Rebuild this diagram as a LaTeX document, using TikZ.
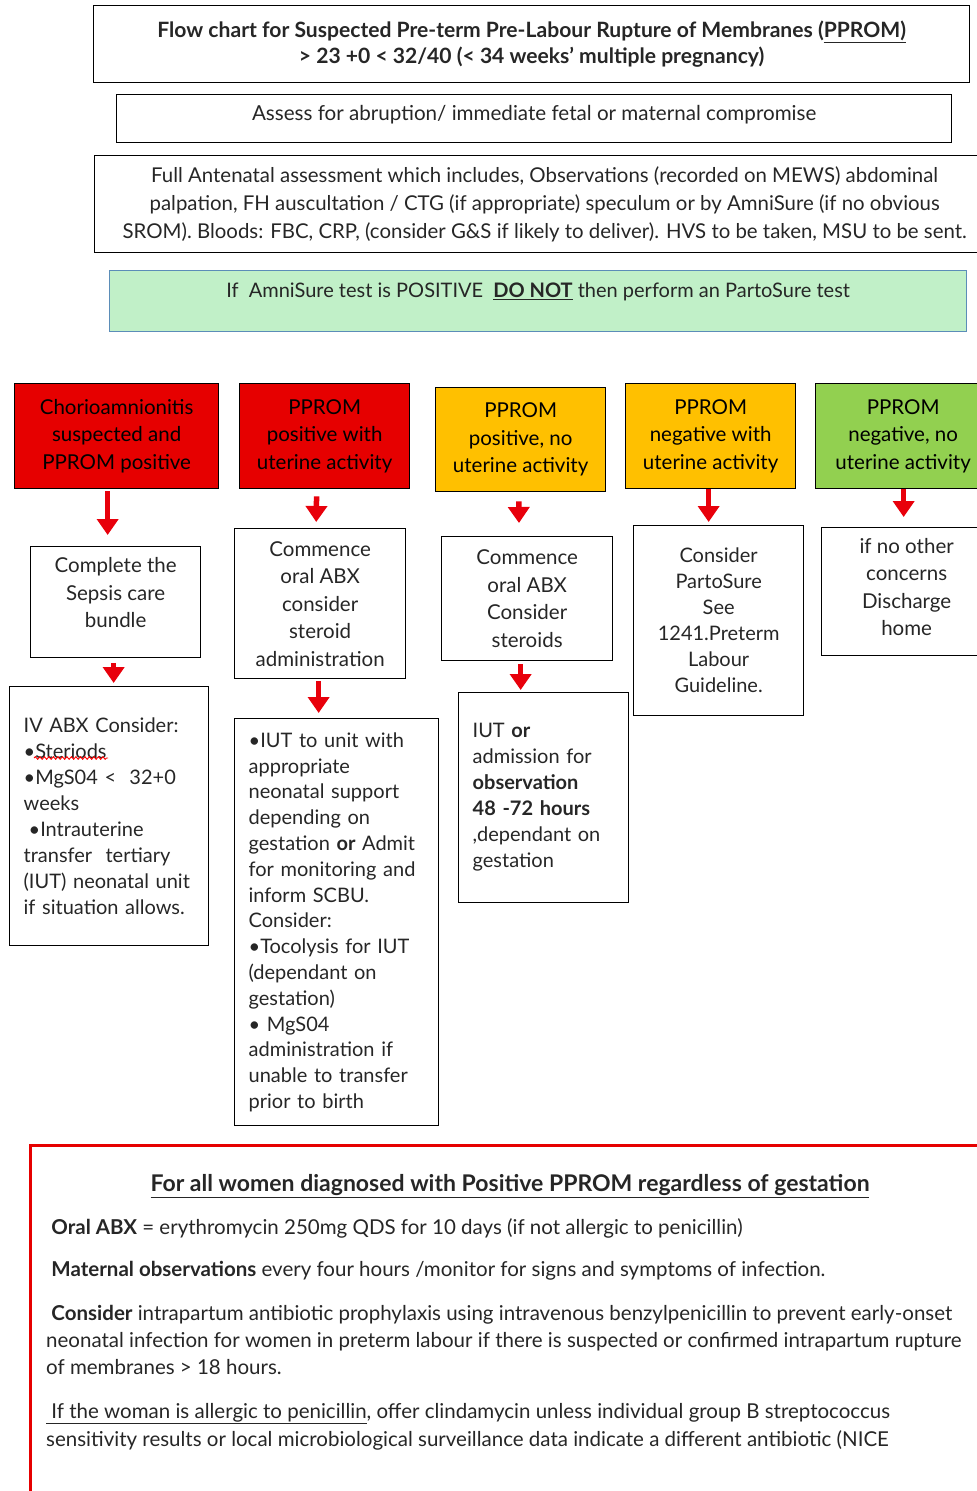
\documentclass[tikz,border=0pt]{standalone}
\usepackage{fontspec}
\setmainfont{Lato}
\usetikzlibrary{arrows.meta, decorations.pathmorphing}

\definecolor{ppromred}{HTML}{E60000}
\definecolor{amber}{HTML}{FFC000}
\definecolor{leaf}{HTML}{92D050}
\definecolor{mint}{HTML}{C1F0C8}
\definecolor{mintline}{HTML}{5B8DB8}
\definecolor{arrowred}{HTML}{E8000B}
\definecolor{inkgray}{HTML}{262626}

\newcommand\boxfont{\fontsize{20.5}{27.5}\selectfont}
\newcommand\listfont{\fontsize{20}{26}\selectfont}
\newcommand\headfont{\fontsize{20.6}{26}\selectfont}
\newcommand\notefont{\fontsize{20.5}{27}\selectfont}

\tikzset{
  box/.style={draw, line width=1.3pt, inner sep=0pt, anchor=north west, align=center, text=inkgray, font=\boxfont},
  topbox/.style={box, font=\headfont},
  redbox/.style={box, fill=ppromred, text=black},
  amberbox/.style={box, fill=amber, text=black},
  greenbox/.style={box, fill=leaf, text=black},
  listbox/.style={box, align=left, inner xsep=14pt, font=\listfont},
  note/.style={anchor=north west, inner sep=0pt, align=left, text=inkgray, font=\notefont},
  redarrow/.style={-{Triangle[width=21pt, length=16pt]}, draw=arrowred, line width=5.5pt},
  frame/.style={draw=ppromred, line width=3pt},
  spell/.style={draw=red, line width=0.9pt, decorate, decoration={snake, amplitude=1.3pt, segment length=4.5pt}}
}

\begin{document}
\begin{tikzpicture}[x=1pt, y=-1pt]
  \useasboundingbox (0,0) rectangle (977,1491);
  \clip (0,0) rectangle (977,1491);

  % Assessment boxes
  \node[topbox, minimum width=876, minimum height=77, font=\fontsize{21.1}{26}\selectfont] (title) at (93,5)
    {\textbf{Flow chart for Suspected Pre-term Pre-Labour Rupture of Membranes (\underline{PPROM)}}\\
     \textbf{> 23 +0 < 32/40 (< 34 weeks’ multiple pregnancy)}};
  \node[topbox, minimum width=835, minimum height=48, text height=14pt, text depth=10pt] (assess) at (116,94)
    {Assess for abruption/ immediate fetal or maternal compromise};
  \node[topbox, minimum width=900, minimum height=97, font=\fontsize{20.4}{28}\selectfont] (full) at (94,155)
    {Full Antenatal assessment which includes, Observations (recorded on MEWS) abdominal\\
     palpation, FH auscultation / CTG (if appropriate) speculum or by AmniSure (if no obvious\\
     SROM). Bloods: FBC, CRP, (consider G\&S if likely to deliver). HVS to be taken, MSU to be sent.};
  \node[topbox, draw=mintline, fill=mint, minimum width=857, minimum height=61, text height=12pt, text depth=19pt, font=\fontsize{20}{26}\selectfont] (amni) at (109,270)
    {If\ \ AmniSure test is POSITIVE\ \ \underline{\textbf{DO NOT}} then perform an PartoSure test};

  % Outcome boxes
  \node[redbox, minimum width=204, minimum height=105] (chorio) at (14,383)
    {Chorioamnionitis\\suspected and\\PPROM positive};
  \node[redbox, minimum width=170, minimum height=105] (posact) at (239,383)
    {PPROM\\positive with\\uterine activity};
  \node[amberbox, minimum width=170, minimum height=104] (posno) at (435,387)
    {PPROM\\positive, no\\uterine activity};
  \node[amberbox, minimum width=170, minimum height=105] (negact) at (625,383)
    {PPROM\\negative with\\uterine activity};
  \node[greenbox, minimum width=175, minimum height=105] (negno) at (815,383)
    {PPROM\\negative, no\\uterine activity};

  % First actions
  \node[box, minimum width=170, minimum height=111] (sepsis) at (30,546)
    {Complete the\\Sepsis care\\bundle\\[-9pt]\mbox{}};
  \node[box, minimum width=171, minimum height=150] (oralabx) at (234,528)
    {Commence\\oral ABX\\consider\\steroid\\administration};
  \node[box, minimum width=171, minimum height=124] (steroids) at (441,536)
    {Commence\\oral ABX\\Consider\\steroids};
  \node[box, minimum width=170, minimum height=190, font=\fontsize{20}{26}\selectfont] (partosure) at (633,525)
    {Consider\\PartoSure\\See\\1241.Preterm\\Labour\\Guideline.};
  \node[box, minimum width=170, minimum height=128] (discharge) at (821,527)
    {if no other\\concerns\\Discharge\\home\\[-18pt]\mbox{}};

  % Second actions
  \node[listbox, text width=171pt, minimum height=259] (ivabx) at (9,686)
    {IV ABX Consider:\\
     •Steriods\\
     •MgS04 <\ \ 32+0\\
     weeks\\
     \hspace{5pt}•Intrauterine\\
     transfer\ \ tertiary\\
     (IUT) neonatal unit\\
     if situation allows.};
  \node[listbox, text width=176pt, minimum height=407, font=\fontsize{20}{25.8}\selectfont] (iut) at (234,718)
    {•IUT to unit with\\
     appropriate\\
     neonatal support\\
     depending on\\
     gestation \textbf{or} Admit\\
     for monitoring and\\
     inform SCBU.\\
     Consider:\\
     •Tocolysis for IUT\\
     (dependant on\\
     gestation)\\
     • MgS04\\
     administration if\\
     unable to transfer\\
     prior to birth};
  \node[listbox, text width=142pt, minimum height=210] (observe) at (458,692)
    {IUT \textbf{or}\\
     admission for\\
     \textbf{observation}\\
     \textbf{48 -72 hours}\\
     ,dependant on\\
     gestation};
  \draw[spell] (34,758) -- (108,758);

  % Arrows
  \draw[redarrow, shorten <=2pt, shorten >=11pt] ([xshift=-9pt]chorio.south) -- ([xshift=-8pt]sepsis.north);
  \draw[redarrow, shorten <=7pt, shorten >=6pt] ([xshift=-8pt]posact.south) -- ([xshift=-4pt]oralabx.north);
  \draw[redarrow, shorten <=9pt, shorten >=13pt] ([xshift=-2pt]posno.south) -- ([xshift=-8pt]steroids.north);
  \draw[redarrow, shorten <=0pt, shorten >=3pt] ([xshift=-2pt]negact.south) -- ([xshift=-10pt]partosure.north);
  \draw[redarrow, shorten <=0pt, shorten >=10pt] ([xshift=0.5pt]negno.south) -- ([xshift=-3pt]discharge.north);
  \draw[redarrow, shorten <=5pt, shorten >=3pt] ([xshift=-2pt]sepsis.south) -- ([xshift=4.5pt]ivabx.north);
  \draw[redarrow, shorten <=2pt, shorten >=5pt] ([xshift=-1.5pt]oralabx.south) -- ([xshift=-18pt]iut.north);
  \draw[redarrow, shorten <=3pt, shorten >=2pt] ([xshift=-6.5pt]steroids.south) -- ([xshift=-23pt]observe.north);

  % Antibiotic notes
  \draw[frame] (30,1520) -- (30,1145) -- (1000,1145);
  \node[note, anchor=north, font=\fontsize{23}{27}\selectfont] (allwomen) at (510,1174)
    {\underline{\textbf{For all women diagnosed with Positive PPROM regardless of gestation}}};
  \node[note] (oral) at (46,1218)
    {\ \textbf{Oral ABX} = erythromycin 250mg QDS for 10 days (if not allergic to penicillin)};
  \node[note] (maternal) at (46,1261)
    {\ \textbf{Maternal observations} every four hours /monitor for signs and symptoms of infection.};
  \node[note] (prophylaxis) at (46,1305)
    {\ \textbf{Consider} intrapartum antibiotic prophylaxis using intravenous benzylpenicillin to prevent early-onset\\
     neonatal infection for women in preterm labour if there is suspected or confirmed intrapartum rupture\\
     of membranes > 18 hours.};
  \node[note, font=\fontsize{20.5}{28.5}\selectfont] (allergic) at (46,1403)
    {\underline{\ If the woman is allergic to penicillin}, offer clindamycin unless individual group B streptococcus\\
     sensitivity results or local microbiological surveillance data indicate a different antibiotic (NICE};
\end{tikzpicture}
\end{document}
